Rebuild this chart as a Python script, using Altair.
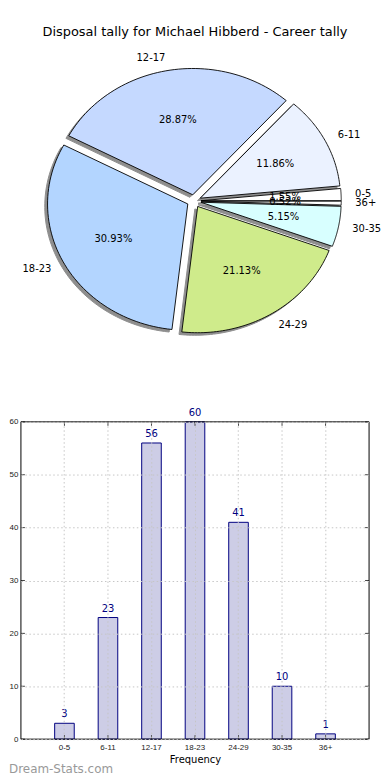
import altair as alt
import pandas as pd

title_text = "Disposal tally for Michael Hibberd - Career tally"
labels = ["0-5", "6-11", "12-17", "18-23", "24-29", "30-35", "36+"]
values = [3, 23, 56, 60, 41, 10, 1]
slice_colors = ["#ffffff", "#ebf2ff", "#c5d9ff", "#b3d5ff", "#cfeb8b", "#d8ffff", "#ffffff"]
y_ticks = [0, 10, 20, 30, 40, 50, 60]
watermark = "Dream-Stats.com"
x_title = "Frequency"

df = pd.DataFrame({"label": labels, "value": values, "idx": list(range(len(labels)))})

FONT = "DejaVu Sans"

xs = alt.Scale(domain=[-1, 1], range=[33, 315])
ys = alt.Scale(domain=[-1, 1], range=[318, 64])

base = (
    alt.Chart(df)
    .transform_joinaggregate(total="sum(value)")
    .transform_window(cum="sum(value)", sort=[alt.SortField("idx")], frame=[None, 0])
    .transform_calculate(
        a0="2*PI*(datum.cum-datum.value)/datum.total",
        a1="2*PI*datum.cum/datum.total",
    )
    .transform_calculate(
        am="(datum.a0+datum.a1)/2",
        pct="datum.value/datum.total",
    )
    .transform_calculate(
        ex="0.05*cos(datum.am)",
        ey="0.05*sin(datum.am)",
    )
)

poly = (
    base.transform_calculate(pts="sequence(0, 62)")
    .transform_flatten(["pts"])
    .transform_calculate(
        ang="datum.a0 + (datum.a1-datum.a0)*(datum.pts-1)/59",
        isv="datum.pts==0 || datum.pts==61",
    )
    .transform_calculate(
        px="datum.ex + (datum.isv ? 0 : cos(datum.ang))",
        py="datum.ey + (datum.isv ? 0 : sin(datum.ang))",
    )
)

shadow = poly.transform_calculate(
    sx="datum.px - 0.02", sy="datum.py - 0.02"
).mark_line(strokeWidth=1).encode(
    x=alt.X("sx:Q", scale=xs, axis=None),
    y=alt.Y("sy:Q", scale=ys, axis=None),
    order="pts:Q",
    detail="label:N",
    fill=alt.value("#8e8e8e"),
    stroke=alt.value("#8e8e8e"),
)

slices = poly.mark_line(strokeWidth=0.9).encode(
    x=alt.X("px:Q", scale=xs, axis=None),
    y=alt.Y("py:Q", scale=ys, axis=None),
    order="pts:Q",
    detail="label:N",
    fill=alt.Fill("label:N", scale=alt.Scale(domain=labels, range=slice_colors), legend=None),
    stroke=alt.value("#000000"),
)

lab = base.transform_calculate(
    lx="datum.ex + 1.1*cos(datum.am)",
    ly="datum.ey + 1.1*sin(datum.am)",
    c="cos(datum.am)",
)
lab_right = lab.transform_filter("datum.c >= 0").mark_text(
    align="left", baseline="middle", fontSize=10, font=FONT, color="black"
).encode(
    x=alt.X("lx:Q", scale=xs, axis=None),
    y=alt.Y("ly:Q", scale=ys, axis=None),
    text="label:N",
)
lab_left = lab.transform_filter("datum.c < 0").mark_text(
    align="right", baseline="middle", fontSize=10, font=FONT, color="black"
).encode(
    x=alt.X("lx:Q", scale=xs, axis=None),
    y=alt.Y("ly:Q", scale=ys, axis=None),
    text="label:N",
)
pcts = base.transform_calculate(
    tx="datum.ex + 0.6*cos(datum.am)",
    ty="datum.ey + 0.6*sin(datum.am)",
).mark_text(align="center", baseline="middle", fontSize=10, font=FONT, color="black").encode(
    x=alt.X("tx:Q", scale=xs, axis=None),
    y=alt.Y("ty:Q", scale=ys, axis=None),
    text=alt.Text("pct:Q", format=".2%"),
)

title = alt.Chart(pd.DataFrame({"t": [title_text]})).mark_text(
    align="center", baseline="middle", fontSize=13, font=FONT, color="black"
).encode(x=alt.value(175), y=alt.value(21), text="t:N")

pie = alt.layer(shadow, slices, lab_right, lab_left, pcts, title).properties(
    width=350, height=400, view=alt.ViewBackground(stroke="transparent")
)

bdf = pd.DataFrame({"label": labels, "value": values})
tdf = pd.DataFrame({"tick": y_ticks})

GRID = "#c6c6c6"
xaxis = alt.Axis(
    title=x_title, titleFont=FONT, titleFontSize=10, titleFontWeight="normal", titleColor="black",
    titlePadding=3, labelFont="Liberation Sans", labelFontSize=8, labelColor="#222222", labelAngle=0,
    labelPadding=4, tickSize=0, domain=False, grid=True, gridColor=GRID, gridDash=[1.5, 2.5],
    gridWidth=1, zindex=1, bandPosition=0.5,
)
yaxis = alt.Axis(
    title=None, values=y_ticks, labelFont="Liberation Sans", labelFontSize=8, labelColor="#222222",
    labelPadding=3, tickSize=0, domain=False, grid=True, gridColor=GRID, gridDash=[1.5, 2.5],
    gridWidth=1, zindex=1,
)

bscale_x = alt.Scale(paddingInner=0.55, paddingOuter=0.775)
bscale_y = alt.Scale(domain=[0, 60], nice=False)
bx = alt.X("label:N", sort=labels, scale=bscale_x, axis=xaxis)
by = alt.Y("value:Q", scale=bscale_y, axis=yaxis)

bars = alt.Chart(bdf).mark_bar(fill="#cdcde6", stroke="#000080", strokeWidth=1).encode(x=bx, y=by)
btext = alt.Chart(bdf).mark_text(
    baseline="bottom", dy=-4, fontSize=10, font=FONT, color="#000080"
).encode(x=bx, y=by, text="value:Q")

TICK = "#444444"
xt = alt.X("label:N", sort=labels, scale=bscale_x, axis=xaxis, bandPosition=0.5)
top_ticks = alt.Chart(bdf).mark_rule(color=TICK, strokeWidth=1).encode(
    x=xt, y=alt.value(0), y2=alt.value(4)
)
bot_ticks = alt.Chart(bdf).mark_rule(color=TICK, strokeWidth=1).encode(
    x=xt, y=alt.value(315), y2=alt.value(319)
)
left_ticks = alt.Chart(tdf).mark_rule(color=TICK, strokeWidth=1).encode(
    y=alt.Y("tick:Q", scale=bscale_y, axis=yaxis), x=alt.value(0), x2=alt.value(4)
)
right_ticks = alt.Chart(tdf).mark_rule(color=TICK, strokeWidth=1).encode(
    y=alt.Y("tick:Q", scale=bscale_y, axis=yaxis), x=alt.value(346), x2=alt.value(350)
)
frame = alt.Chart(pd.DataFrame({"f": [0]})).mark_rect(
    fill="transparent", stroke="black", strokeWidth=1
).encode(x=alt.value(0), x2=alt.value(350), y=alt.value(0), y2=alt.value(319))

wm = alt.Chart(pd.DataFrame({"t": [watermark]})).mark_text(
    align="left", baseline="middle", fontSize=12, font=FONT, color="#999999"
).encode(x=alt.value(-12), y=alt.value(349), text="t:N")

bar = alt.layer(bars, btext, top_ticks, bot_ticks, left_ticks, right_ticks, wm).properties(
    width=350, height=319, view=alt.ViewBackground(stroke="transparent")
)
bar_full = alt.layer(bar, frame)

chart = alt.vconcat(pie, bar_full, spacing=13, bounds="flush").properties(padding=0)

chart.save("out.html", embed_options={"renderer": "svg", "actions": False})
